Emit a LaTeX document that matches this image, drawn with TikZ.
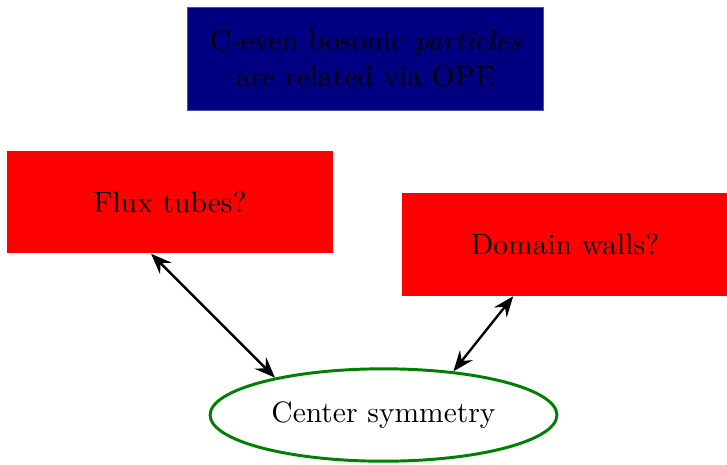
\documentclass[tikz,border=0pt]{standalone}
\usetikzlibrary{arrows.meta,shapes.geometric}
\definecolor{navyfill}{RGB}{0,0,128}
\definecolor{darkgreen}{RGB}{0,128,0}
\tikzset{
  box/.style={rectangle, inner sep=0pt, text=black},
  redbox/.style={box, fill=red, minimum width=110.4pt, minimum height=34.7pt},
  link/.style={thick, {Stealth[length=7pt,width=5.5pt,inset=2.5pt]}-{Stealth[length=7pt,width=5.5pt,inset=2.5pt]}},
}
\begin{document}
\begin{tikzpicture}[x=0.3388pt, y=-0.3388pt]
  \useasboundingbox (0,0) rectangle (727,464);
  \node[box, fill=navyfill, draw=navyfill!70!white, line width=0.3pt,
        minimum width=120.9pt, minimum height=34.9pt, align=center]
        (ope) at (365.5,58.5) {C-even bosonic \textit{particles}\\are related via OPE};
  \node[redbox] (flux) at (170,202) {Flux tubes?};
  \node[redbox] (dw) at (565,244.5) {Domain walls?};
  \node[ellipse, draw=darkgreen, line width=1pt, inner sep=0pt,
        minimum width=117.5pt, minimum height=31.3pt]
        (cs) at (383.5,415) {Center symmetry};
  \draw[link] (flux.-110) -- (cs.161);
  \draw[link] (dw.-135) -- (cs.32);
\end{tikzpicture}
\end{document}
